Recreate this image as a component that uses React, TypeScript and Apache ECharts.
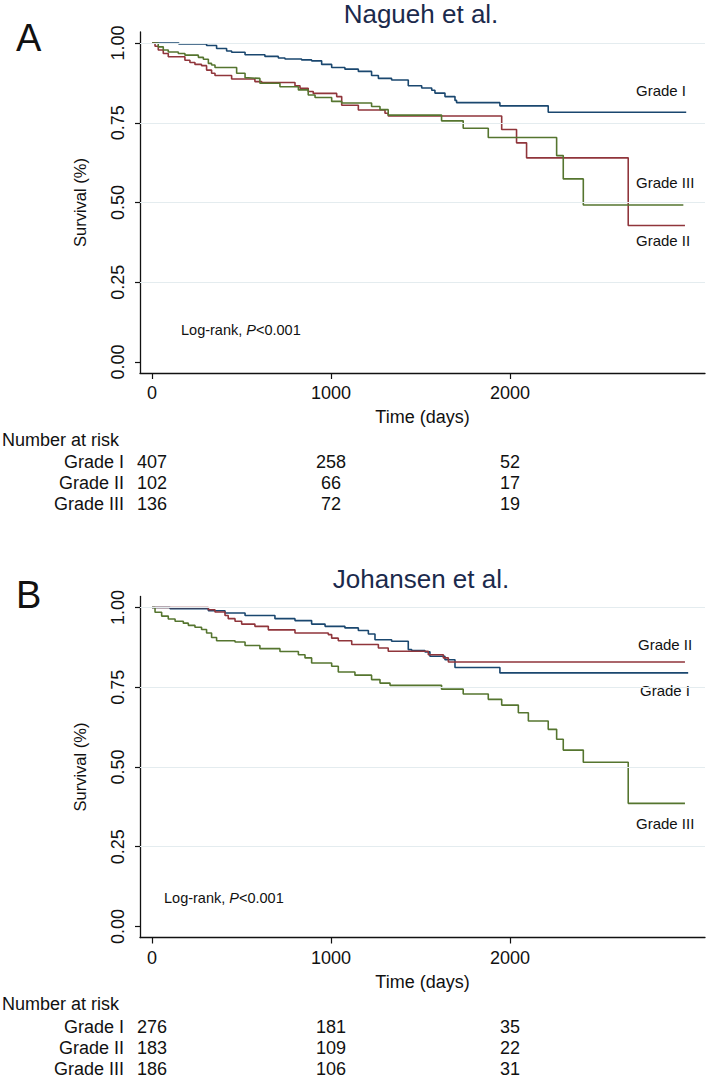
import React, { useEffect, useRef } from "react";
import * as echarts from "echarts";

const FONT = "'Liberation Sans', Arial, Helvetica, sans-serif";
const NAVY = "#1a476f";
const MAROON = "#90353b";
const GREEN = "#55752f";
const GRID_COLOR = "#e4ecef";
const TXT = "#111111";

const xTicks = [0, 1000, 2000];
const yTicks = [0, 0.25, 0.5, 0.75, 1];
const riskTimes = [0, 1000, 2000];
const riskRows = ["Grade I", "Grade II", "Grade III"];

// Nagueh et al. (panel A) – Kaplan–Meier steps [days, survival]
const nagGradeI = [
  [0, 1], [150, 0.997], [305, 0.992], [361, 0.983], [417, 0.975], [445, 0.971], [520, 0.963],
  [631, 0.958], [706, 0.953], [743, 0.95], [836, 0.947], [892, 0.944], [948, 0.933], [1004, 0.923],
  [1078, 0.918], [1153, 0.911], [1227, 0.898], [1265, 0.889], [1339, 0.884], [1432, 0.866],
  [1507, 0.859], [1563, 0.852], [1581, 0.843], [1637, 0.832], [1693, 0.82], [1702, 0.813],
  [1944, 0.803], [2214, 0.783], [2985, 0.783],
];
const nagGradeII = [
  [0, 1], [17, 0.99], [35, 0.978], [63, 0.967], [91, 0.957], [184, 0.946], [212, 0.939], [240, 0.933],
  [277, 0.929], [305, 0.915], [333, 0.905], [352, 0.898], [445, 0.887], [575, 0.879], [613, 0.876],
  [799, 0.866], [827, 0.858], [873, 0.848], [901, 0.842], [1032, 0.832], [1060, 0.805], [1153, 0.79],
  [1302, 0.78], [1320, 0.771], [1954, 0.729], [2037, 0.687], [2093, 0.64], [2661, 0.428], [2978, 0.428],
];
const nagGradeIII = [
  [0, 1], [35, 0.988], [63, 0.978], [91, 0.972], [147, 0.967], [184, 0.962], [259, 0.955], [287, 0.949],
  [315, 0.936], [333, 0.931], [352, 0.923], [473, 0.905], [520, 0.891], [538, 0.889], [603, 0.874],
  [715, 0.863], [818, 0.853], [873, 0.837], [911, 0.829], [1004, 0.817], [1060, 0.812], [1227, 0.801],
  [1274, 0.791], [1320, 0.774], [1618, 0.756], [1739, 0.733], [1879, 0.704], [2261, 0.647],
  [2298, 0.574], [2410, 0.492], [2969, 0.492],
];

// Johansen et al. (panel B)
const johGradeI = [
  [0, 1], [101, 0.996], [315, 0.99], [408, 0.983], [520, 0.975], [687, 0.965], [799, 0.959], [892, 0.948],
  [967, 0.941], [1078, 0.936], [1153, 0.928], [1209, 0.917], [1246, 0.899], [1339, 0.894], [1432, 0.868],
  [1451, 0.865], [1525, 0.861], [1553, 0.847], [1637, 0.836], [1693, 0.812], [1944, 0.795], [2996, 0.795],
];
const johGradeII = [
  [0, 1], [315, 0.993], [352, 0.986], [408, 0.975], [426, 0.965], [464, 0.957], [501, 0.948], [575, 0.941],
  [650, 0.93], [799, 0.92], [985, 0.915], [1004, 0.904], [1041, 0.896], [1116, 0.884], [1265, 0.873],
  [1320, 0.863], [1544, 0.852], [1628, 0.842], [1656, 0.829], [2978, 0.829],
];
const johGradeIII = [
  [0, 1], [17, 0.985], [54, 0.973], [91, 0.964], [129, 0.957], [175, 0.951], [203, 0.944], [240, 0.938],
  [277, 0.931], [305, 0.92], [333, 0.906], [361, 0.896], [464, 0.892], [520, 0.881], [603, 0.871],
  [715, 0.862], [818, 0.852], [855, 0.842], [892, 0.826], [1004, 0.816], [1041, 0.798], [1134, 0.788],
  [1227, 0.774], [1274, 0.763], [1330, 0.756], [1618, 0.744], [1739, 0.729], [1879, 0.712], [1954, 0.694],
  [2047, 0.67], [2103, 0.644], [2214, 0.618], [2261, 0.587], [2298, 0.553], [2410, 0.515], [2661, 0.386],
  [2978, 0.386],
];

// Numbers at risk
const nagRiskI = [407, 258, 52];
const nagRiskII = [102, 66, 17];
const nagRiskIII = [136, 72, 19];
const johRiskI = [276, 181, 35];
const johRiskII = [183, 109, 22];
const johRiskIII = [186, 106, 31];

const X_MIN = -67;
const X_MAX = 3090;
const Y_MIN = -0.0345;
const Y_MAX = 1.0345;

function mainXAxis(gridIndex: number) {
  return {
    type: "value",
    gridIndex,
    min: X_MIN,
    max: X_MAX,
    name: "Time (days)",
    nameLocation: "middle",
    nameGap: 35,
    nameTextStyle: { fontFamily: FONT, fontSize: 18, color: TXT },
    axisLine: { show: true, onZero: false, lineStyle: { color: "#111", width: 1.3 } },
    axisTick: { show: true, length: 6, customValues: xTicks, lineStyle: { color: "#111", width: 1.2 } },
    axisLabel: {
      show: true,
      customValues: xTicks,
      margin: 11,
      fontFamily: FONT,
      fontSize: 18,
      color: TXT,
      formatter: (v: number) => String(v),
    },
    splitLine: { show: false },
  };
}

function mainYAxis(gridIndex: number) {
  return {
    type: "value",
    gridIndex,
    min: Y_MIN,
    max: Y_MAX,
    name: "Survival (%)",
    nameLocation: "middle",
    nameGap: 52,
    nameTextStyle: { fontFamily: FONT, fontSize: 16.5, color: TXT },
    axisLine: { show: true, onZero: false, lineStyle: { color: "#111", width: 1.3 } },
    axisTick: { show: true, length: 5, customValues: yTicks, lineStyle: { color: "#111", width: 1.2 } },
    axisLabel: {
      show: true,
      customValues: yTicks,
      rotate: 90,
      margin: 13,
      fontFamily: FONT,
      fontSize: 18,
      color: TXT,
      formatter: (v: number) => v.toFixed(2),
    },
    splitLine: { show: false },
  };
}

function riskXAxis(gridIndex: number) {
  return { type: "value", gridIndex, min: X_MIN, max: X_MAX, show: false };
}

function riskYAxis(gridIndex: number) {
  return {
    type: "category",
    gridIndex,
    data: riskRows,
    inverse: true,
    axisLine: { show: false },
    axisTick: { show: false },
    splitLine: { show: false },
    axisLabel: {
      interval: 0,
      hideOverlap: false,
      margin: 16,
      fontFamily: FONT,
      fontSize: 18,
      color: TXT,
    },
  };
}

function kmSeries(data: number[][], color: string, axisIndex: number) {
  return {
    type: "line",
    xAxisIndex: axisIndex,
    yAxisIndex: axisIndex,
    data,
    step: "end",
    symbol: "none",
    z: 3,
    lineStyle: { color, width: 1.6 },
  };
}

function gridLineSeries(axisIndex: number) {
  return {
    type: "line",
    xAxisIndex: axisIndex,
    yAxisIndex: axisIndex,
    data: [],
    symbol: "none",
    z: 1,
    markLine: {
      silent: true,
      symbol: ["none", "none"],
      label: { show: false },
      lineStyle: { color: GRID_COLOR, width: 1.2, type: "solid" },
      data: yTicks.filter((v) => v > 0).map((v) => ({ yAxis: v })),
    },
  };
}

function riskSeries(rows: number[][], axisIndex: number) {
  const data: any[] = [];
  rows.forEach((vals, r) => {
    vals.forEach((v, j) => data.push([riskTimes[j], riskRows[r], v]));
  });
  return {
    type: "scatter",
    xAxisIndex: axisIndex,
    yAxisIndex: axisIndex,
    data,
    symbolSize: 1,
    itemStyle: { color: "#ffffff", opacity: 1 },
    label: {
      show: true,
      position: "inside",
      formatter: (p: any) => String(p.value[2]),
      fontFamily: FONT,
      fontSize: 18,
      color: TXT,
      opacity: 1,
      textBorderWidth: 0,
    },
    emphasis: { disabled: true },
  };
}

function txt(text: string, x: number, y: number, size: number, extra: any = {}) {
  return {
    type: "text",
    x,
    y,
    silent: true,
    style: {
      text,
      fontFamily: FONT,
      fontSize: size,
      fill: TXT,
      textAlign: "left",
      textVerticalAlign: "middle",
      ...extra,
    },
  };
}

function logRank(x: number, y: number) {
  return {
    type: "text",
    x,
    y,
    silent: true,
    style: {
      text: "{n|Log-rank, }{i|P}{n|<0.001}",
      textAlign: "left",
      textVerticalAlign: "middle",
      rich: {
        n: { fontFamily: FONT, fontSize: 14.5, fill: TXT },
        i: { fontFamily: FONT, fontSize: 14.5, fill: TXT, fontStyle: "italic" },
      },
    },
  };
}

const OFFSET = 564.5;

export default function App() {
  const ref = useRef<HTMLDivElement>(null);
  useEffect(() => {
    if (!ref.current) return;
    const chart = echarts.init(ref.current, undefined, { renderer: "svg" });
    const option: any = {
      animation: false,
      backgroundColor: "#ffffff",
      grid: [
        { left: 140, right: 4, top: 32, height: 341 },
        { left: 140, right: 4, top: 451.5, height: 63 },
        { left: 140, right: 4, top: 32 + OFFSET, height: 341 },
        { left: 140, right: 4, top: 451.5 + OFFSET, height: 63.5 },
      ],
      xAxis: [mainXAxis(0), riskXAxis(1), mainXAxis(2), riskXAxis(3)],
      yAxis: [mainYAxis(0), riskYAxis(1), mainYAxis(2), riskYAxis(3)],
      series: [
        gridLineSeries(0),
        kmSeries(nagGradeI, NAVY, 0),
        kmSeries(nagGradeII, MAROON, 0),
        kmSeries(nagGradeIII, GREEN, 0),
        riskSeries([nagRiskI, nagRiskII, nagRiskIII], 1),
        gridLineSeries(2),
        kmSeries(johGradeI, NAVY, 2),
        kmSeries(johGradeII, MAROON, 2),
        kmSeries(johGradeIII, GREEN, 2),
        riskSeries([johRiskI, johRiskII, johRiskIII], 3),
      ],
      graphic: [
        txt("A", 16, 38, 38),
        txt("Nagueh et al.", 421, 14, 26, { textAlign: "center", fill: "#1b2a4c" }),
        txt("Grade I", 636, 90.5, 15),
        txt("Grade III", 636, 182.5, 15),
        txt("Grade II", 636, 240, 15),
        logRank(181, 330),
        txt("Number at risk", 2, 440, 18),
        txt("B", 16, 595, 38),
        txt("Johansen et al.", 421, 579, 26, { textAlign: "center", fill: "#1b2a4c" }),
        txt("Grade II", 638, 644, 15),
        txt("Grade I", 640, 690, 15),
        txt("Grade III", 636, 823, 15),
        logRank(164, 898),
        txt("Number at risk", 2, 1003.5, 18),
      ],
    };
    chart.setOption(option);
    return () => chart.dispose();
  }, []);
  return (
    <div
      ref={ref}
      style={{ position: "absolute", left: 0, top: 0, width: 709, height: 1079, background: "#fff" }}
    />
  );
}
